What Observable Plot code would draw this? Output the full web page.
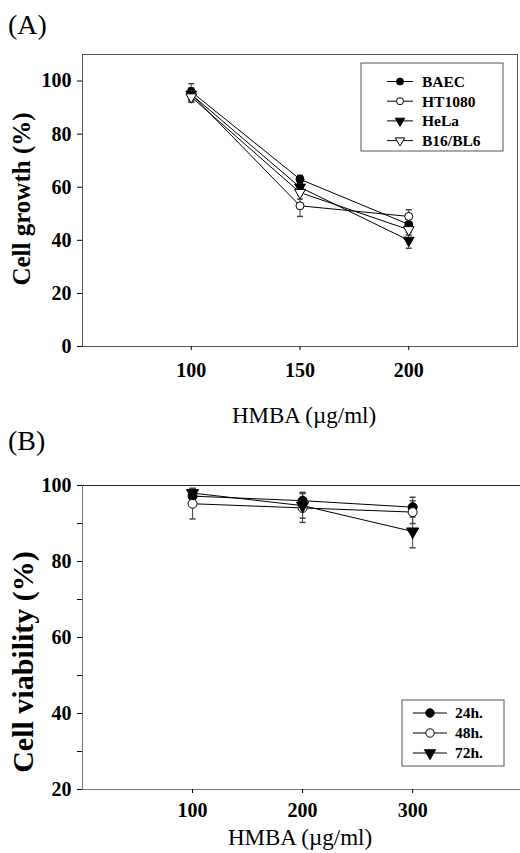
<!DOCTYPE html>
<html><head><meta charset="utf-8">
<script src="https://cdn.jsdelivr.net/npm/d3@7"></script>
<script src="https://cdn.jsdelivr.net/npm/@observablehq/plot@0.6"></script>
<style>
body{margin:0;background:#fff;}
#wrap{position:relative;width:520px;height:853px;overflow:hidden;font-family:"Liberation Serif","Times New Roman",serif;}
.panel{position:absolute;left:0;}
#overlay{position:absolute;left:0;top:0;pointer-events:none;}
</style></head><body>
<div id="wrap">
<div id="A" class="panel" style="top:0"></div>
<div id="B" class="panel" style="top:440px"></div>
<svg id="overlay" width="520" height="853"></svg>
</div>
<script>
// ---- Panel A data ----
const doseA = [100, 150, 200];
const namesA = ["BAEC", "HT1080", "HeLa", "B16/BL6"];
const baec = [96, 63, 46];    const baecErr = [3, 1.5, 2];
const ht1080 = [95, 53, 49];  const ht1080Err = [2.5, 4, 2.5];
const hela = [95, 60, 40];    const helaErr = [2, 2, 3];
const b16 = [94, 58, 44];     const b16Err = [2, 2.5, 2];
const yTicksA = [0, 20, 40, 60, 80, 100];
const xTicksA = [100, 150, 200];
const titleA = "(A)";
const yLabelA = "Cell growth (%)";
const xLabelA = "HMBA (\u00b5g/ml)";

// ---- Panel B data ----
const doseB = [100, 200, 300];
const namesB = ["24h.", "48h.", "72h."];
const h24 = [97.2, 96, 94.3];   const h24Err = [2, 2.2, 2.6];
const h48 = [95.2, 94.1, 93];   const h48Err = [4, 3.8, 3];
const h72 = [98, 94.7, 87.9];   const h72Err = [1.2, 3.3, 4.3];
const yTicksB = [20, 40, 60, 80, 100];
const yMinorB = [30, 50, 70, 90];
const xTicksB = [100, 200, 300];
const titleB = "(B)";
const yLabelB = "Cell viability (%)";
const xLabelB = "HMBA (\u00b5g/ml)";

const FONT = "'Liberation Serif','Times New Roman',serif";

const triDown = {draw(ctx, size) {
  const a = Math.sqrt(4 * size / Math.sqrt(3)), h = a * Math.sqrt(3) / 2;
  ctx.moveTo(0, 2 * h / 3); ctx.lineTo(-a / 2, -h / 3); ctx.lineTo(a / 2, -h / 3); ctx.closePath();
}};
const capSym = {draw(ctx, size) { ctx.moveTo(-3, 0); ctx.lineTo(3, 0); }};
const styles = [
  {symbol: d3.symbolCircle, fill: "black"},
  {symbol: d3.symbolCircle, fill: "white"},
  {symbol: triDown, fill: "black"},
  {symbol: triDown, fill: "white"}
];

function toRows(doses, names, vals, errs) {
  return names.flatMap((n, i) => doses.map((d, j) => ({
    series: n, x: d, y: vals[i][j], lo: vals[i][j] - errs[i][j], hi: vals[i][j] + errs[i][j]
  })));
}
function seriesMarks(rows, names, r) {
  const m = [
    Plot.ruleX(rows, {x: "x", y1: "lo", y2: "hi", stroke: "#444", strokeWidth: 1}),
    Plot.dot(rows, {x: "x", y: "lo", symbol: capSym, stroke: "#444", r: 2}),
    Plot.dot(rows, {x: "x", y: "hi", symbol: capSym, stroke: "#444", r: 2}),
    Plot.line(rows, {x: "x", y: "y", z: "series", stroke: "black", strokeWidth: 1})
  ];
  names.forEach((n, i) => m.push(Plot.dot(rows.filter(d => d.series === n), {
    x: "x", y: "y", r, symbol: styles[i].symbol, fill: styles[i].fill, stroke: "black", strokeWidth: 1
  })));
  return m;
}

const rowsA = toRows(doseA, namesA, [baec, ht1080, hela, b16], [baecErr, ht1080Err, helaErr, b16Err]);
const rowsB = toRows(doseB, namesB, [h24, h48, h72], [h24Err, h48Err, h72Err]);
const axisStyle = {fontFamily: FONT, fontSize: "20px", fontWeight: "bold", color: "black", background: "transparent", overflow: "visible"};

const plotA = Plot.plot({
  width: 520, height: 430, marginTop: 54, marginRight: 3, marginBottom: 84, marginLeft: 82,
  style: axisStyle,
  x: {domain: [50, 250]}, y: {domain: [0, 110]},
  marks: [
    Plot.frame({stroke: "#555"}),
    Plot.axisY(yTicksA, {tickSize: 5, tickPadding: 6, label: null, fontSize: 20, fontWeight: "bold"}),
    Plot.axisX(xTicksA, {tickSize: 4, tickPadding: 12, label: null, fontSize: 20, fontWeight: "bold"}),
    ...seriesMarks(rowsA, namesA, 4)
  ]
});
document.getElementById("A").appendChild(plotA);

const plotB = Plot.plot({
  width: 520, height: 413, marginTop: 45, marginRight: 0, marginBottom: 64, marginLeft: 82,
  style: axisStyle,
  x: {domain: [0, 398]}, y: {domain: [20, 100]},
  marks: [
    Plot.ruleY([100], {stroke: "#222"}),
    Plot.ruleY([20], {stroke: "#777"}),
    Plot.ruleX([0], {stroke: "#777"}),
    Plot.axisY(yTicksB, {tickSize: 5, tickPadding: 6, label: null, fontSize: 20, fontWeight: "bold"}),
    Plot.axisY(yMinorB, {tickSize: 5, tickFormat: () => "", label: null}),
    Plot.axisX(xTicksB, {tickSize: 4, tickPadding: 9, label: null, fontSize: 20, fontWeight: "bold"}),
    ...seriesMarks(rowsB, namesB, 4.5)
  ]
});
document.getElementById("B").appendChild(plotB);

// ---- Overlay: titles, axis labels, legends ----
const svg = d3.select("#overlay").style("font-family", FONT);
function txt(s, x, y, size, weight, anchor, rot) {
  const t = svg.append("text").text(s).attr("font-size", size).attr("font-weight", weight)
    .attr("text-anchor", anchor || "start").attr("fill", "black");
  if (rot) t.attr("transform", `translate(${x},${y}) rotate(-90)`); else t.attr("x", x).attr("y", y);
}
txt(titleA, 8, 34, 28, "normal");
txt(titleB, 8, 450, 28, "normal");
txt(yLabelA, 30, 199, 25, "bold", "middle", true);
txt(yLabelB, 33, 662, 30, "bold", "middle", true);
txt(xLabelA, 304, 423, 23, "normal", "middle");
txt(xLabelB, 300, 845, 23, "normal", "middle");

function legend(names, box, y0, step, lx0, lx1, tx, r) {
  svg.append("rect").attr("x", box[0]).attr("y", box[1]).attr("width", box[2]).attr("height", box[3])
    .attr("fill", "white").attr("stroke", "#555");
  names.forEach((n, i) => {
    const y = y0 + i * step, cx = (lx0 + lx1) / 2;
    svg.append("line").attr("x1", lx0).attr("x2", lx1).attr("y1", y).attr("y2", y).attr("stroke", "black");
    svg.append("path").attr("d", d3.symbol(styles[i].symbol, Math.PI * r * r)())
      .attr("transform", `translate(${cx},${y})`).attr("fill", styles[i].fill).attr("stroke", "black");
    svg.append("text").text(n).attr("x", tx).attr("y", y).attr("dy", "0.35em")
      .attr("font-size", 15.5).attr("font-weight", "bold").attr("fill", "black");
  });
}
legend(namesA, [361, 63, 142, 88], 81.5, 19.7, 387, 413, 422, 3.5);
legend(namesB, [402, 700, 102, 66], 713, 20, 413, 447, 455, 4.2);
</script>
</body></html>
